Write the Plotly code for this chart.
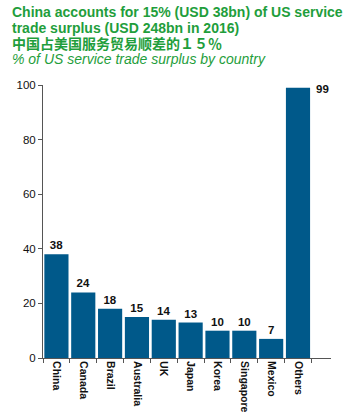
import plotly.graph_objects as go

countries = ["China", "Canada", "Brazil", "Australia", "UK", "Japan",
             "Korea", "Singapore", "Mexico", "Others"]
share = [38, 24, 18, 15, 14, 13, 10, 10, 7, 99]
y_ticks = [0, 20, 40, 60, 80, 100]

title_lines = [
    "China accounts for 15% (USD 38bn) of US service",
    "trade surplus (USD 248bn in 2016)",
    "中国占美国服务贸易顺差的１５％",
]
subtitle = "% of US service trade surplus by country"

GREEN = "#1f9e3c"
BAR = "#00598a"
AXIS = "#555555"
LABEL_FONT = "Liberation Sans, Arial"

fig = go.Figure()
fig.add_trace(go.Bar(
    x=countries, y=share,
    marker=dict(color=BAR, line=dict(width=0)),
    text=[str(v) if c != "Others" else "" for c, v in zip(countries, share)],
    texttemplate="<b>%{text}</b>",
    textposition="outside",
    textfont=dict(family=LABEL_FONT, size=11.5, color="#111111"),
    cliponaxis=False,
))

# value label for the tallest bar sits beside its top
fig.add_annotation(x=countries[-1], y=share[-1], text=f"<b>{share[-1]}</b>",
                   showarrow=False, xanchor="left", yanchor="middle",
                   xshift=16, yshift=-1,
                   font=dict(family=LABEL_FONT, size=11.5, color="#111111"))

for i, line in enumerate(title_lines):
    fig.add_annotation(x=0, xref="paper", xanchor="left", xshift=-33,
                       y=1, yref="paper", yanchor="middle",
                       yshift=73 - i * 16,
                       text=f"<b>{line}</b>", showarrow=False,
                       font=dict(family="Liberation Sans, Arial, Noto Sans CJK SC",
                                 size=14, color=GREEN))
fig.add_annotation(x=0, xref="paper", xanchor="left", xshift=-33,
                   y=1, yref="paper", yanchor="middle", yshift=26,
                   text=f"<i>{subtitle}</i>", showarrow=False,
                   font=dict(family="Liberation Sans, Arial", size=14, color=GREEN))

fig.update_layout(
    width=350, height=417,
    margin=dict(l=43, r=19, t=85, b=59),
    paper_bgcolor="white", plot_bgcolor="white",
    bargap=0.1, showlegend=False,
    uniformtext=dict(mode="show", minsize=8),
)
fig.update_yaxes(range=[0, 100], tickvals=y_ticks, showgrid=False, zeroline=False,
                 showline=True, linecolor=AXIS, linewidth=1,
                 ticks="outside", ticklen=4, tickcolor=AXIS, automargin=False,
                 tickfont=dict(family=LABEL_FONT, size=11.5, color="#111111"),
                 tickprefix="<b>", ticksuffix="</b>")
fig.update_xaxes(showgrid=False, showline=True, linecolor=AXIS, linewidth=1,
                 ticks="outside", ticklen=4, tickcolor=AXIS, tickson="boundaries",
                 tickangle=90, automargin=False,
                 tickfont=dict(family=LABEL_FONT, size=10.5, color="#111111"),
                 tickprefix="<b>", ticksuffix="</b>")

fig.write_html("out.html")
